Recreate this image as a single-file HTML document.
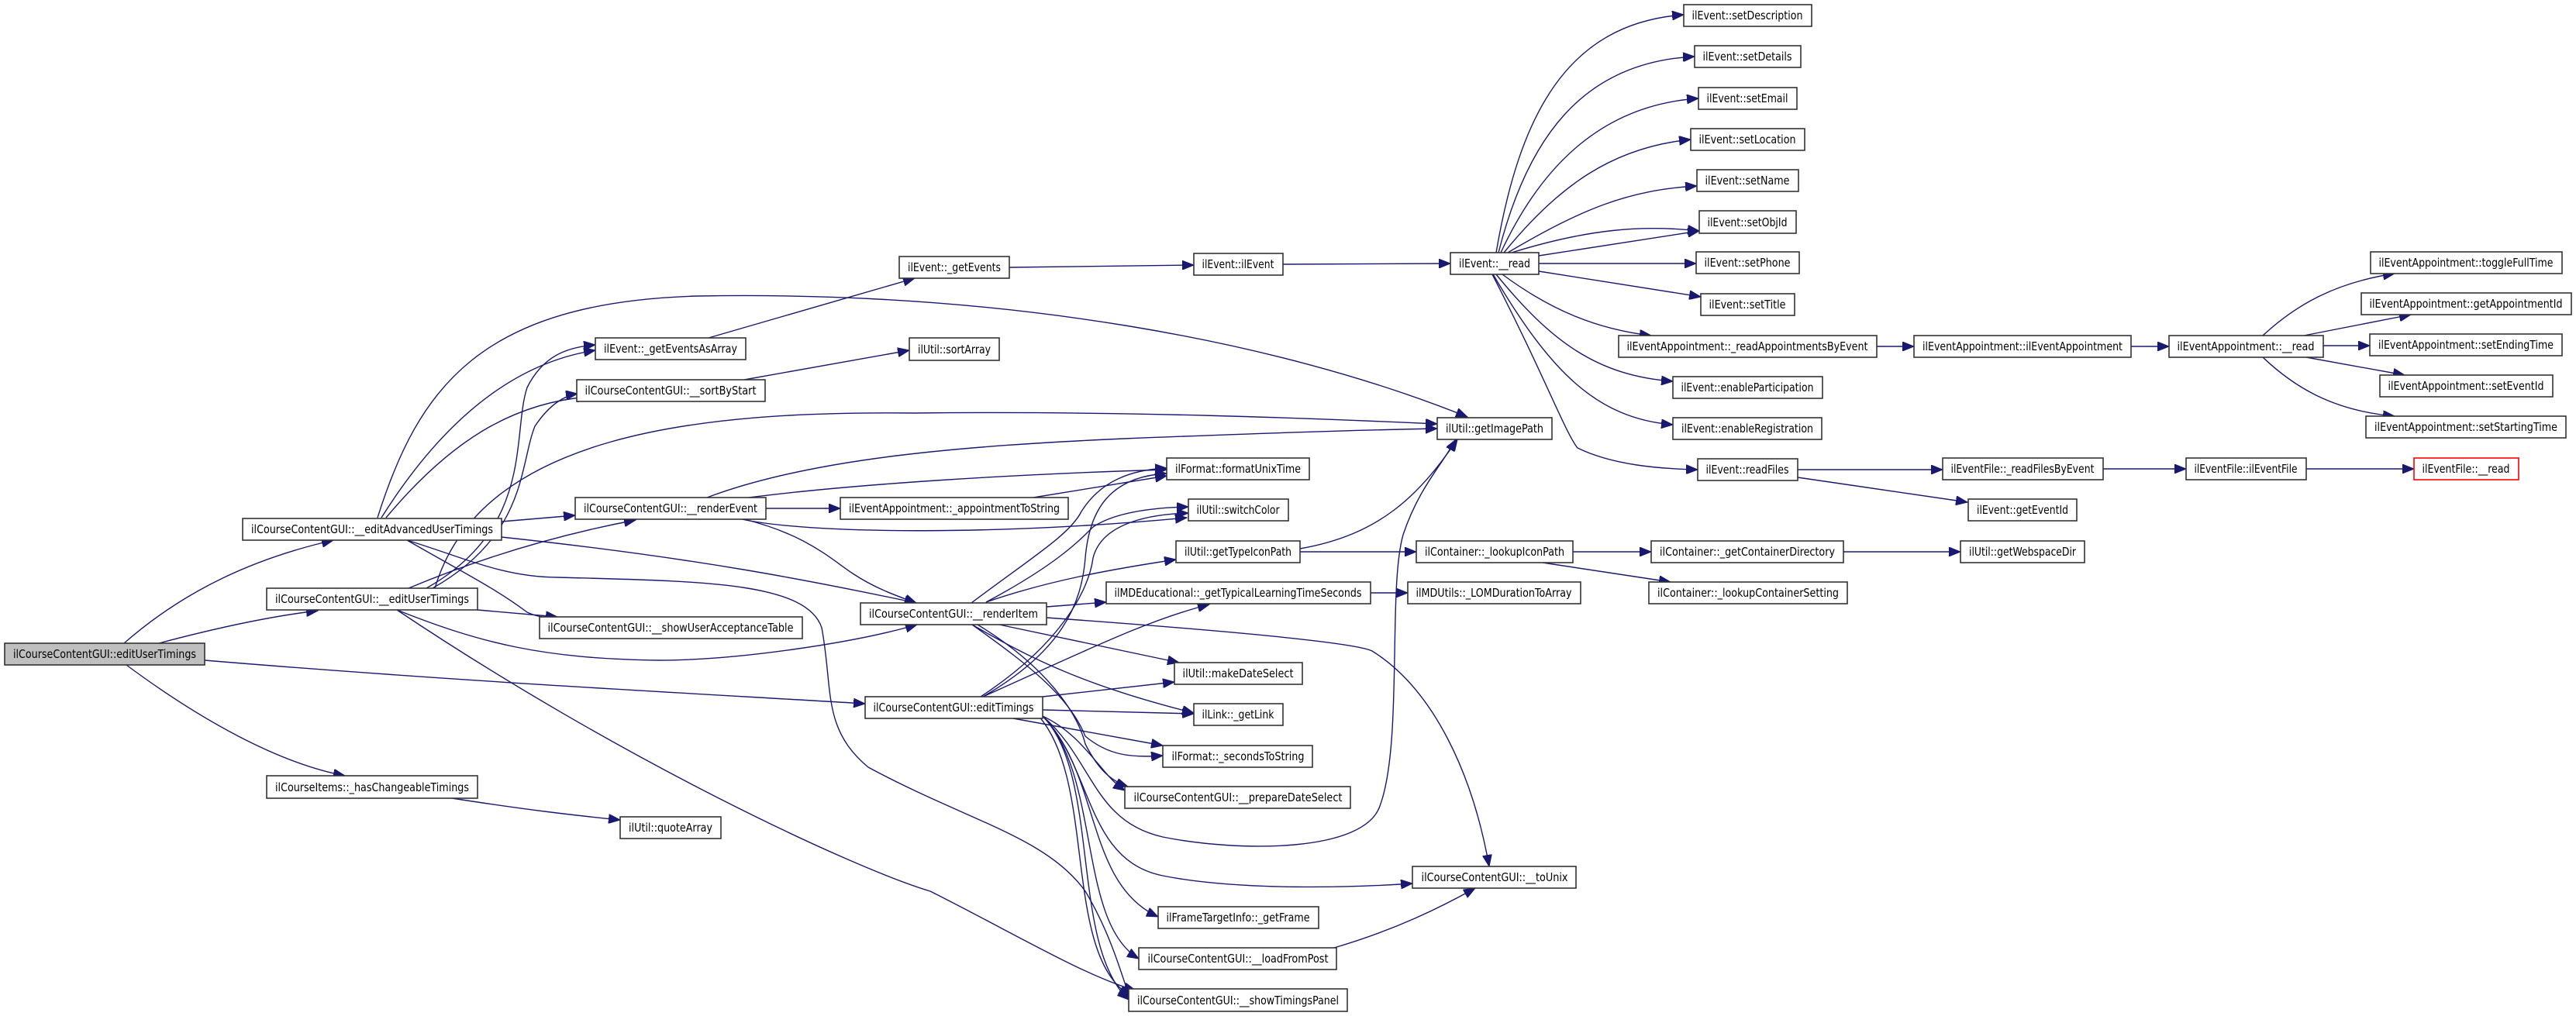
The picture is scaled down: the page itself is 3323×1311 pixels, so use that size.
<!DOCTYPE html>
<html><head><meta charset="utf-8"><style>
html,body{margin:0;padding:0;background:#fff;}
svg{display:block}
.n rect{fill:#fff;stroke:#333;stroke-width:1.6}
.n text{font-family:"DejaVu Sans","Liberation Sans",sans-serif;font-size:15px;fill:#000}
.e path{fill:none;stroke:#191970;stroke-width:1.4}
</style></head><body>
<svg width="3323" height="1311" viewBox="0 0 3323 1311" xmlns="http://www.w3.org/2000/svg">
<defs><marker id="a" markerUnits="userSpaceOnUse" markerWidth="16" markerHeight="12" refX="15" refY="6" orient="auto"><path d="M0,0 L15,6 L0,12 z" fill="#191970" stroke="#191970"/></marker></defs>
<g class="e" marker-end="url(#a)">
<!-- root -->
<path d="M160,830 C240,760 330,720 430,697" marker-end="url(#a)"/>
<path d="M205,830 C280,810 350,795 410,788" marker-end="url(#a)"/>
<path d="M264,852 C600,880 900,895 1116,908" marker-end="url(#a)"/>
<path d="M163,858 C260,930 360,985 445,1001" marker-end="url(#a)"/>
<path d="M583,1030 C680,1045 740,1052 800,1058" marker-end="url(#a)"/>
<!-- editAdv -->
<path d="M487,668 C540,500 620,390 900,382 C1300,375 1650,440 1893,538" marker-end="url(#a)"/>
<path d="M492,668 C560,560 650,470 768,452" marker-end="url(#a)"/>
<path d="M498,668 C580,570 660,520 759,512" marker-end="url(#a)"/>
<path d="M647,673 L742,665" marker-end="url(#a)"/>
<path d="M525,697 C600,740 640,760 680,790 C700,800 740,800 750,796" marker-end="url(#a)"/>
<path d="M647,693 C900,720 1050,750 1182,778" marker-end="url(#a)"/>
<path d="M525,697 C600,720 650,745 720,745 C900,750 1040,750 1060,810 C1075,890 1060,940 1120,990 C1250,1060 1350,1080 1400,1150 C1430,1200 1445,1250 1458,1290" marker-end="url(#a)"/>
<!-- editUser -->
<path d="M561,759 C620,560 900,530 1180,533 C1450,530 1700,540 1854,547" marker-end="url(#a)"/>
<path d="M550,759 C690,680 660,560 680,500 C700,460 730,448 768,445" marker-end="url(#a)"/>
<path d="M558,759 C680,690 670,600 690,550 C710,520 730,510 745,508" marker-end="url(#a)"/>
<path d="M527,759 C620,720 720,690 820,671" marker-end="url(#a)"/>
<path d="M616,787 L719,796" marker-end="url(#a)"/>
<path d="M512,787 C620,830 700,850 850,852 C950,852 1100,830 1183,806" marker-end="url(#a)"/>
<path d="M512,787 C800,980 1100,1120 1200,1150 C1300,1200 1400,1260 1465,1278" marker-end="url(#a)"/>
<!-- renderEvent -->
<path d="M988,656 L1084,656" marker-end="url(#a)"/>
<path d="M957,670 C1050,690 1300,690 1531,668" marker-end="url(#a)"/>
<path d="M960,670 C1040,690 1070,720 1100,740 C1130,760 1160,770 1182,778" marker-end="url(#a)"/>
<path d="M912,642 C1050,590 1250,575 1450,566 C1650,558 1750,555 1854,553" marker-end="url(#a)"/>
<path d="M966,642 C1100,625 1300,612 1505,606" marker-end="url(#a)"/>
<path d="M1333,642 L1505,614" marker-end="url(#a)"/>
<!-- top chain -->
<path d="M914,436 L1180,359" marker-end="url(#a)"/>
<path d="M960,490 L1173,452" marker-end="url(#a)"/>
<path d="M1302,345 L1540,342" marker-end="url(#a)"/>
<path d="M1655,341 L1871,340" marker-end="url(#a)"/>
<path d="M1930,326 C1960,150 2020,30 2172,19" marker-end="url(#a)"/>
<path d="M1933,326 C1970,180 2040,80 2186,73" marker-end="url(#a)"/>
<path d="M1936,326 C1990,210 2070,135 2191,127" marker-end="url(#a)"/>
<path d="M1940,326 C2010,240 2080,190 2181,180" marker-end="url(#a)"/>
<path d="M1945,326 C2040,270 2100,245 2189,240" marker-end="url(#a)"/>
<path d="M1950,326 C2050,295 2120,290 2192,298" marker-end="url(#a)"/>
<path d="M1985,330 L2192,298"/>
<path d="M1985,340 L2188,340" marker-end="url(#a)"/>
<path d="M1985,350 L2194,383" marker-end="url(#a)"/>
<path d="M1938,354 C2000,400 2060,425 2130,433" marker-end="url(#a)"/>
<path d="M1930,354 C2000,440 2060,485 2158,492" marker-end="url(#a)"/>
<path d="M1926,354 C2000,480 2060,540 2158,548" marker-end="url(#a)"/>
<path d="M1925,354 C1990,480 2020,560 2035,578 C2080,600 2140,605 2190,606" marker-end="url(#a)"/>
<path d="M2421,447 L2469,447" marker-end="url(#a)"/>
<path d="M2749,447 L2798,447" marker-end="url(#a)"/>
<path d="M2919,433 C2960,395 3010,365 3089,353" marker-end="url(#a)"/>
<path d="M2972,433 L3110,406" marker-end="url(#a)"/>
<path d="M2997,446 L3057,446" marker-end="url(#a)"/>
<path d="M2975,461 L3102,484" marker-end="url(#a)"/>
<path d="M2919,461 C2960,500 3010,530 3089,537" marker-end="url(#a)"/>
<path d="M2319,606 L2506,606" marker-end="url(#a)"/>
<path d="M2319,616 L2538,648" marker-end="url(#a)"/>
<path d="M2713,605 L2820,605" marker-end="url(#a)"/>
<path d="M2975,605 L3114,605" marker-end="url(#a)"/>
<!-- container -->
<path d="M1677,712 L1827,712" marker-end="url(#a)"/>
<path d="M1677,708 C1780,690 1830,640 1880,567" marker-end="url(#a)"/>
<path d="M2029,712 L2130,712" marker-end="url(#a)"/>
<path d="M1990,726 L2155,751" marker-end="url(#a)"/>
<path d="M2378,712 L2529,712" marker-end="url(#a)"/>
<path d="M1768,765 L1816,765" marker-end="url(#a)"/>
<!-- renderItem -->
<path d="M1253,778 C1330,720 1380,690 1395,660 C1420,620 1460,606 1505,604" marker-end="url(#a)"/>
<path d="M1272,777 C1360,730 1390,700 1410,680 C1440,660 1490,655 1533,654" marker-end="url(#a)"/>
<path d="M1272,777 C1350,750 1430,735 1517,722" marker-end="url(#a)"/>
<path d="M1350,783 L1427,777" marker-end="url(#a)"/>
<path d="M1289,806 L1521,855" marker-end="url(#a)"/>
<path d="M1254,806 C1330,850 1400,885 1540,920" marker-end="url(#a)"/>
<path d="M1254,806 C1330,860 1380,900 1400,950 C1430,975 1460,978 1500,975" marker-end="url(#a)"/>
<path d="M1261,806 C1350,860 1390,920 1400,960 C1420,1000 1440,1010 1455,1015" marker-end="url(#a)"/>
<path d="M1350,797 C1600,815 1750,830 1770,840 C1850,890 1900,1000 1921,1118" marker-end="url(#a)"/>
<!-- editTimings -->
<path d="M1268,899 C1370,840 1395,780 1400,720 C1405,660 1430,615 1505,611" marker-end="url(#a)"/>
<path d="M1265,899 C1370,830 1405,760 1410,720 C1420,680 1470,664 1533,662" marker-end="url(#a)"/>
<path d="M1268,899 C1400,840 1480,800 1560,780" marker-end="url(#a)"/>
<path d="M1345,899 L1515,880" marker-end="url(#a)"/>
<path d="M1345,916 L1540,921" marker-end="url(#a)"/>
<path d="M1307,927 L1500,962" marker-end="url(#a)"/>
<path d="M1345,924 C1400,950 1420,1000 1451,1020" marker-end="url(#a)"/>
<path d="M1345,924 C1410,980 1410,1060 1500,1080 C1600,1100 1760,1100 1780,1040 C1810,960 1790,760 1810,690 C1830,630 1860,600 1878,567" marker-end="url(#a)"/>
<path d="M1345,924 C1410,990 1400,1110 1500,1130 C1600,1150 1750,1145 1822,1140" marker-end="url(#a)"/>
<path d="M1345,924 C1420,1000 1400,1140 1494,1183" marker-end="url(#a)"/>
<path d="M1345,924 C1420,1000 1390,1190 1469,1237" marker-end="url(#a)"/>
<path d="M1345,924 C1420,1000 1380,1220 1456,1290" marker-end="url(#a)"/>
<path d="M1340,924 C1415,1010 1370,1230 1458,1285" marker-end="url(#a)"/>
<path d="M1721,1223 C1800,1200 1860,1170 1903,1146" marker-end="url(#a)"/>
</g>
<g class="n">
<rect x="6" y="830" width="258" height="28" style="fill:#bfbfbf"/><text x="135" y="849" text-anchor="middle" textLength="236" lengthAdjust="spacingAndGlyphs">ilCourseContentGUI::editUserTimings</text>
<rect x="313" y="669" width="334" height="28"/><text x="480" y="688" text-anchor="middle" textLength="312" lengthAdjust="spacingAndGlyphs">ilCourseContentGUI::__editAdvancedUserTimings</text>
<rect x="344" y="759" width="272" height="28"/><text x="480" y="778" text-anchor="middle" textLength="250" lengthAdjust="spacingAndGlyphs">ilCourseContentGUI::__editUserTimings</text>
<rect x="344" y="1001" width="272" height="29"/><text x="480" y="1021" text-anchor="middle" textLength="250" lengthAdjust="spacingAndGlyphs">ilCourseItems::_hasChangeableTimings</text>
<rect x="800" y="1054" width="130" height="28"/><text x="865" y="1073" text-anchor="middle" textLength="108" lengthAdjust="spacingAndGlyphs">ilUtil::quoteArray</text>
<rect x="696" y="796" width="339" height="28"/><text x="865" y="815" text-anchor="middle" textLength="317" lengthAdjust="spacingAndGlyphs">ilCourseContentGUI::__showUserAcceptanceTable</text>
<rect x="742" y="642" width="246" height="28"/><text x="865" y="661" text-anchor="middle" textLength="224" lengthAdjust="spacingAndGlyphs">ilCourseContentGUI::__renderEvent</text>
<rect x="768" y="436" width="194" height="28"/><text x="865" y="455" text-anchor="middle" textLength="172" lengthAdjust="spacingAndGlyphs">ilEvent::_getEventsAsArray</text>
<rect x="744" y="490" width="243" height="28"/><text x="865" y="509" text-anchor="middle" textLength="221" lengthAdjust="spacingAndGlyphs">ilCourseContentGUI::__sortByStart</text>
<rect x="1160" y="331" width="142" height="28"/><text x="1231" y="350" text-anchor="middle" textLength="120" lengthAdjust="spacingAndGlyphs">ilEvent::_getEvents</text>
<rect x="1173" y="436" width="116" height="29"/><text x="1231" y="456" text-anchor="middle" textLength="94" lengthAdjust="spacingAndGlyphs">ilUtil::sortArray</text>
<rect x="1540" y="327" width="115" height="28"/><text x="1597" y="346" text-anchor="middle" textLength="93" lengthAdjust="spacingAndGlyphs">ilEvent::ilEvent</text>
<rect x="1871" y="326" width="114" height="28"/><text x="1928" y="345" text-anchor="middle" textLength="92" lengthAdjust="spacingAndGlyphs">ilEvent::__read</text>
<rect x="1854" y="539" width="148" height="28"/><text x="1928" y="558" text-anchor="middle" textLength="126" lengthAdjust="spacingAndGlyphs">ilUtil::getImagePath</text>
<rect x="1084" y="642" width="294" height="28"/><text x="1231" y="661" text-anchor="middle" textLength="272" lengthAdjust="spacingAndGlyphs">ilEventAppointment::_appointmentToString</text>
<rect x="1505" y="591" width="184" height="28"/><text x="1597" y="610" text-anchor="middle" textLength="162" lengthAdjust="spacingAndGlyphs">ilFormat::formatUnixTime</text>
<rect x="1533" y="644" width="129" height="28"/><text x="1597" y="663" text-anchor="middle" textLength="107" lengthAdjust="spacingAndGlyphs">ilUtil::switchColor</text>
<rect x="1517" y="698" width="160" height="28"/><text x="1597" y="717" text-anchor="middle" textLength="138" lengthAdjust="spacingAndGlyphs">ilUtil::getTypeIconPath</text>
<rect x="1427" y="751" width="341" height="28"/><text x="1597" y="770" text-anchor="middle" textLength="319" lengthAdjust="spacingAndGlyphs">ilMDEducational::_getTypicalLearningTimeSeconds</text>
<rect x="1110" y="778" width="240" height="28"/><text x="1230" y="797" text-anchor="middle" textLength="218" lengthAdjust="spacingAndGlyphs">ilCourseContentGUI::__renderItem</text>
<rect x="1515" y="855" width="165" height="28"/><text x="1597" y="874" text-anchor="middle" textLength="143" lengthAdjust="spacingAndGlyphs">ilUtil::makeDateSelect</text>
<rect x="1116" y="899" width="229" height="28"/><text x="1230" y="918" text-anchor="middle" textLength="207" lengthAdjust="spacingAndGlyphs">ilCourseContentGUI::editTimings</text>
<rect x="1540" y="908" width="115" height="28"/><text x="1597" y="927" text-anchor="middle" textLength="93" lengthAdjust="spacingAndGlyphs">ilLink::_getLink</text>
<rect x="1500" y="962" width="193" height="28"/><text x="1597" y="981" text-anchor="middle" textLength="171" lengthAdjust="spacingAndGlyphs">ilFormat::_secondsToString</text>
<rect x="1451" y="1015" width="291" height="28"/><text x="1597" y="1034" text-anchor="middle" textLength="269" lengthAdjust="spacingAndGlyphs">ilCourseContentGUI::__prepareDateSelect</text>
<rect x="1822" y="1118" width="211" height="28"/><text x="1928" y="1137" text-anchor="middle" textLength="189" lengthAdjust="spacingAndGlyphs">ilCourseContentGUI::__toUnix</text>
<rect x="1494" y="1170" width="207" height="28"/><text x="1597" y="1189" text-anchor="middle" textLength="185" lengthAdjust="spacingAndGlyphs">ilFrameTargetInfo::_getFrame</text>
<rect x="1469" y="1223" width="255" height="28"/><text x="1597" y="1242" text-anchor="middle" textLength="233" lengthAdjust="spacingAndGlyphs">ilCourseContentGUI::__loadFromPost</text>
<rect x="1456" y="1276" width="282" height="29"/><text x="1597" y="1296" text-anchor="middle" textLength="260" lengthAdjust="spacingAndGlyphs">ilCourseContentGUI::__showTimingsPanel</text>
<rect x="1827" y="698" width="202" height="28"/><text x="1928" y="717" text-anchor="middle" textLength="180" lengthAdjust="spacingAndGlyphs">ilContainer::_lookupIconPath</text>
<rect x="1816" y="751" width="223" height="28"/><text x="1927" y="770" text-anchor="middle" textLength="201" lengthAdjust="spacingAndGlyphs">ilMDUtils::_LOMDurationToArray</text>
<rect x="2130" y="698" width="248" height="28"/><text x="2254" y="717" text-anchor="middle" textLength="226" lengthAdjust="spacingAndGlyphs">ilContainer::_getContainerDirectory</text>
<rect x="2127" y="751" width="256" height="28"/><text x="2255" y="770" text-anchor="middle" textLength="234" lengthAdjust="spacingAndGlyphs">ilContainer::_lookupContainerSetting</text>
<rect x="2529" y="698" width="160" height="28"/><text x="2609" y="717" text-anchor="middle" textLength="138" lengthAdjust="spacingAndGlyphs">ilUtil::getWebspaceDir</text>
<rect x="2172" y="6" width="165" height="28"/><text x="2254" y="25" text-anchor="middle" textLength="143" lengthAdjust="spacingAndGlyphs">ilEvent::setDescription</text>
<rect x="2186" y="59" width="137" height="28"/><text x="2254" y="78" text-anchor="middle" textLength="115" lengthAdjust="spacingAndGlyphs">ilEvent::setDetails</text>
<rect x="2191" y="113" width="127" height="28"/><text x="2254" y="132" text-anchor="middle" textLength="105" lengthAdjust="spacingAndGlyphs">ilEvent::setEmail</text>
<rect x="2181" y="166" width="147" height="28"/><text x="2254" y="185" text-anchor="middle" textLength="125" lengthAdjust="spacingAndGlyphs">ilEvent::setLocation</text>
<rect x="2189" y="219" width="131" height="28"/><text x="2254" y="238" text-anchor="middle" textLength="109" lengthAdjust="spacingAndGlyphs">ilEvent::setName</text>
<rect x="2192" y="272" width="125" height="29"/><text x="2254" y="292" text-anchor="middle" textLength="103" lengthAdjust="spacingAndGlyphs">ilEvent::setObjId</text>
<rect x="2188" y="325" width="133" height="28"/><text x="2254" y="344" text-anchor="middle" textLength="111" lengthAdjust="spacingAndGlyphs">ilEvent::setPhone</text>
<rect x="2194" y="379" width="121" height="28"/><text x="2254" y="398" text-anchor="middle" textLength="99" lengthAdjust="spacingAndGlyphs">ilEvent::setTitle</text>
<rect x="2088" y="433" width="333" height="28"/><text x="2254" y="452" text-anchor="middle" textLength="311" lengthAdjust="spacingAndGlyphs">ilEventAppointment::_readAppointmentsByEvent</text>
<rect x="2158" y="486" width="193" height="28"/><text x="2254" y="505" text-anchor="middle" textLength="171" lengthAdjust="spacingAndGlyphs">ilEvent::enableParticipation</text>
<rect x="2158" y="539" width="192" height="28"/><text x="2254" y="558" text-anchor="middle" textLength="170" lengthAdjust="spacingAndGlyphs">ilEvent::enableRegistration</text>
<rect x="2190" y="592" width="129" height="28"/><text x="2254" y="611" text-anchor="middle" textLength="107" lengthAdjust="spacingAndGlyphs">ilEvent::readFiles</text>
<rect x="2469" y="433" width="280" height="28"/><text x="2609" y="452" text-anchor="middle" textLength="258" lengthAdjust="spacingAndGlyphs">ilEventAppointment::ilEventAppointment</text>
<rect x="2798" y="433" width="199" height="28"/><text x="2897" y="452" text-anchor="middle" textLength="177" lengthAdjust="spacingAndGlyphs">ilEventAppointment::__read</text>
<rect x="3058" y="325" width="247" height="28"/><text x="3181" y="344" text-anchor="middle" textLength="225" lengthAdjust="spacingAndGlyphs">ilEventAppointment::toggleFullTime</text>
<rect x="3046" y="378" width="271" height="28"/><text x="3181" y="397" text-anchor="middle" textLength="249" lengthAdjust="spacingAndGlyphs">ilEventAppointment::getAppointmentId</text>
<rect x="3057" y="431" width="248" height="28"/><text x="3181" y="450" text-anchor="middle" textLength="226" lengthAdjust="spacingAndGlyphs">ilEventAppointment::setEndingTime</text>
<rect x="3070" y="484" width="223" height="28"/><text x="3181" y="503" text-anchor="middle" textLength="201" lengthAdjust="spacingAndGlyphs">ilEventAppointment::setEventId</text>
<rect x="3052" y="537" width="258" height="28"/><text x="3181" y="556" text-anchor="middle" textLength="236" lengthAdjust="spacingAndGlyphs">ilEventAppointment::setStartingTime</text>
<rect x="2506" y="591" width="207" height="28"/><text x="2609" y="610" text-anchor="middle" textLength="185" lengthAdjust="spacingAndGlyphs">ilEventFile::_readFilesByEvent</text>
<rect x="2820" y="591" width="155" height="28"/><text x="2897" y="610" text-anchor="middle" textLength="133" lengthAdjust="spacingAndGlyphs">ilEventFile::ilEventFile</text>
<rect x="3114" y="591" width="135" height="28" style="stroke:#ff0000"/><text x="3181" y="610" text-anchor="middle" textLength="113" lengthAdjust="spacingAndGlyphs">ilEventFile::__read</text>
<rect x="2539" y="644" width="140" height="28"/><text x="2609" y="663" text-anchor="middle" textLength="118" lengthAdjust="spacingAndGlyphs">ilEvent::getEventId</text>
</g>
</svg>
</body></html>
